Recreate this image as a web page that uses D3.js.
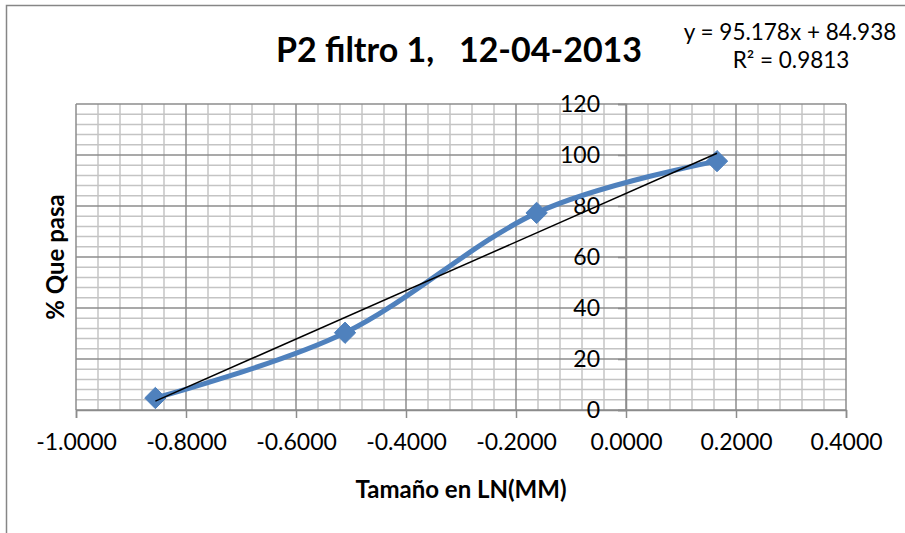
<!DOCTYPE html>
<html>
<head>
<meta charset="utf-8">
<script src="https://cdn.jsdelivr.net/npm/d3@7"></script>
<style>
  html, body { margin: 0; padding: 0; background: #fff; }
  svg { display: block; }
  text { font-family: Lato, "Liberation Sans", sans-serif; fill: #000; }
</style>
</head>
<body>
<svg id="chart" width="905" height="533"></svg>
<script>
// ---- data ----
const sizesLn = [-0.8557, -0.5108, -0.1625, 0.1655];
const passPct = [4.7, 30.3, 77.3, 97.6];
const xTicks = [-1.0, -0.8, -0.6, -0.4, -0.2, 0.0, 0.2, 0.4];
const yTicks = [0, 20, 40, 60, 80, 100, 120];
const trendSlope = 95.178;
const trendIntercept = 84.938;
const trendR2 = 0.9813;
const titleText = "P2 filtro 1,   12-04-2013";
const xTitle = "Tamaño en LN(MM)";
const yTitle = "% Que pasa";

const svg = d3.select("#chart");
const W = 905, H = 533;
const plot = { left: 76, right: 846, top: 104, bottom: 410 };

const x = d3.scaleLinear().domain([-1, 0.4]).range([plot.left, plot.right]);
const y = d3.scaleLinear().domain([0, 120]).range([plot.bottom, plot.top]);

// chart border
svg.append("rect").attr("x", 6.5).attr("y", 5.5).attr("width", W + 10).attr("height", H + 10)
  .attr("fill", "#fff").attr("stroke", "#868686").attr("stroke-width", 1.5);

// minor gridlines
const xMinor = d3.range(0, 36).map(i => -1 + i * 0.04).filter((v, i) => i % 5 !== 0);
const yMinor = d3.range(0, 31).map(i => i * 4).filter((v, i) => i % 5 !== 0);
const g = svg.append("g");
g.selectAll(".xm").data(xMinor).join("line")
  .attr("x1", d => x(d)).attr("x2", d => x(d)).attr("y1", plot.top).attr("y2", plot.bottom)
  .attr("stroke", "#c4c4c4").attr("stroke-width", 1.5);
g.selectAll(".ym").data(yMinor).join("line")
  .attr("x1", plot.left).attr("x2", plot.right).attr("y1", d => y(d)).attr("y2", d => y(d))
  .attr("stroke", "#c4c4c4").attr("stroke-width", 1.5);
// major gridlines
g.selectAll(".xM").data(xTicks).join("line")
  .attr("x1", d => x(d)).attr("x2", d => x(d)).attr("y1", plot.top).attr("y2", plot.bottom)
  .attr("stroke", "#8c8c8c").attr("stroke-width", 1.5);
g.selectAll(".yM").data(yTicks).join("line")
  .attr("x1", plot.left).attr("x2", plot.right).attr("y1", d => y(d)).attr("y2", d => y(d))
  .attr("stroke", "#8c8c8c").attr("stroke-width", 1.5);

// x axis (at y = 0)
const xAxis = d3.axisBottom(x).tickValues(xTicks).tickFormat(d3.format(".4f")).tickSize(8).tickPadding(16);
const xa = svg.append("g").attr("transform", `translate(0,${y(0)})`).call(xAxis);
xa.select(".domain").attr("stroke", "#8c8c8c").attr("stroke-width", 1.5);
xa.selectAll(".tick line").attr("stroke", "#8c8c8c").attr("stroke-width", 1.5);
xa.selectAll(".tick text").attr("font-size", 23).attr("font-family", "Lato").attr("fill", "#000")
  .text(d => d3.format(".4f")(d).replace("−", "-"));

// y axis (at x = 0)
const yAxis = d3.axisLeft(y).tickValues(yTicks).tickSize(8).tickPadding(18);
const ya = svg.append("g").attr("transform", `translate(${x(0)},0)`).call(yAxis);
ya.select(".domain").attr("stroke", "#8c8c8c").attr("stroke-width", 1.5);
ya.selectAll(".tick line").attr("stroke", "#8c8c8c").attr("stroke-width", 1.5);
ya.selectAll(".tick text").attr("font-size", 23).attr("font-family", "Lato").attr("fill", "#000");

// series
const pts = sizesLn.map((v, i) => [v, passPct[i]]);
const line = d3.line().x(d => x(d[0])).y(d => y(d[1])).curve(d3.curveCardinal.tension(0));
svg.append("path").datum(pts).attr("d", line)
  .attr("fill", "none").attr("stroke", "#4f81bd").attr("stroke-width", 5).attr("stroke-linejoin", "round");

svg.selectAll(".mk").data(pts).join("path")
  .attr("d", d3.symbol().type(d3.symbolDiamond2).size(290))
  .attr("transform", d => `translate(${x(d[0])},${y(d[1])})`)
  .attr("fill", "#4f81bd").attr("stroke", "#4f81bd").attr("stroke-width", 1);

// linear trendline
const xr = d3.extent(sizesLn);
svg.append("line")
  .attr("x1", x(xr[0])).attr("y1", y(trendSlope * xr[0] + trendIntercept))
  .attr("x2", x(xr[1])).attr("y2", y(trendSlope * xr[1] + trendIntercept))
  .attr("stroke", "#000").attr("stroke-width", 1.5);

// title
svg.append("text").attr("x", 459).attr("y", 62).attr("text-anchor", "middle")
  .attr("font-size", 34).attr("font-weight", "bold").attr("xml:space", "preserve")
  .style("white-space", "pre").text(titleText);

// equation
svg.append("text").attr("x", 790).attr("y", 40).attr("text-anchor", "middle")
  .attr("font-size", 22.5).text(`y = ${trendSlope}x + ${trendIntercept}`);
svg.append("text").attr("x", 791).attr("y", 68).attr("text-anchor", "middle")
  .attr("font-size", 22.5).text(`R² = ${trendR2}`);

// axis titles
svg.append("text").attr("x", (plot.left + plot.right) / 2 - 0).attr("y", 498).attr("text-anchor", "middle")
  .attr("font-size", 24).attr("font-weight", "bold").text(xTitle);
svg.append("text").attr("transform", "translate(64,257) rotate(-90)").attr("text-anchor", "middle")
  .attr("font-size", 24).attr("font-weight", "bold").text(yTitle);
</script>
</body>
</html>
